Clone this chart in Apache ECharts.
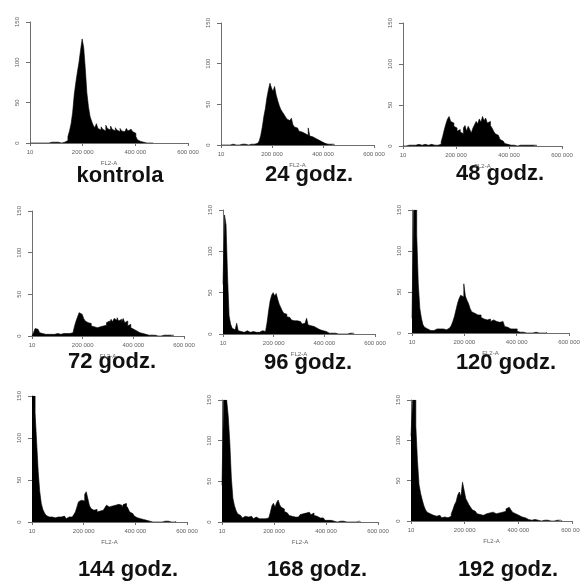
<!DOCTYPE html>
<html>
<head>
<meta charset="utf-8">
<script src="https://cdn.jsdelivr.net/npm/echarts@6/dist/echarts.min.js"></script>
<style>
  html, body { margin: 0; padding: 0; background: #fff; }
  #chart { width: 580px; height: 582px; }
</style>
</head>
<body>
<div id="chart"></div>
<script>
// DNA content histograms (FL2-A), cell counts per 6 000-wide channel bin
const BIN = 6000;
const panelTitles = ['kontrola', '24 godz.', '48 godz.', '72 godz.', '96 godz.', '120 godz.', '144 godz.', '168 godz.', '192 godz.'];
const xTickLabels = ['10', '200 000', '400 000', '600 000'];
const yTickLabels = ['0', '50', '100', '150'];

const kontrola = [0,0,0,0,0,0,0,0,0,0,0,0,0, 1,0,1,2,1,1,0, 1,1,2,3, 8,15,24,38,60,75,88,100,115,129,118,92,62,45,33,27,
  22,19,24,18,16,20,17,15,22,18,16,21,17,15,19,16,14,18,15,14,16,18,15,17,16,14,12,8,4,2,1,1,1,0,1,0,1,0];
const h24 = [0,0,0,0,0,0,0,1,1,0,0,0, 0,1,0,1,1,0,1,1, 1,1,2,2,3,5,12,22,35,45,58,68,76,70,66,72,62,55,49,44,
  41,38,35,32,30,28,33,25,22,21,19,17,16,15,14,13,12,21,11,10,9,8,7,6,5,4,3,2,1,1,0,1,0,1];
const h48 = [0,0,0, 1,0,1,2,1,1,2,1,1,1,2,1,1,1,2,1,1,2,1,1,2, 5,12,20,27,33,36,30,28,24,22,18,20,17,15,22,25,
  18,24,20,16,22,26,30,27,33,29,36,31,34,28,30,25,22,18,15,13,11,8,6,4,3,2,2,1,1,1, 1,0,1,1,0,1,0,1,0,1,0,1,0,1];
const h72 = [0,4,9,8,6,4,3,2,2,3,2,3,2,1,2,2,3,2,2,3,3,2,3,3,3,4,4,5,12,18,23,28,26,24,21,18,16,14,15,12,
  11,13,10,9,11,9,12,14,13,16,18,15,20,17,21,19,22,18,20,17,21,16,18,12,14,10,8,9,6,5,4,4,3,3,2,2,1,
  1,1,0,1,1,0,1,0,1,1,0,1,0,1,0,1];
const h96 = [60,144,132,70,22,12,7,5,6,13,4,3,2,2,3,4,2,2,4,3,2,2,1,2,3,4,2,3,5,14,28,40,47,50,46,49,42,36,32,28,
  25,24,21,20,19,17,16,15,16,14,15,13,12,13,12,19,11,10,9,9,8,7,6,5,5,4,5,3,2,1,
  1,1,0,1,1,0,1,0,1,0,1,0,0,1,0,1];
const h120 = [18,150,150,120,60,30,18,10,7,5,4,3,4,3,4,5,6,5,4,5,6,4,5,6,7,9,14,20,28,36,42,46,44,60,45,40,36,30,26,24,
  23,22,20,22,19,17,18,16,15,17,14,16,15,14,16,13,15,14,12,8,7,6,5,6,5,7,5,2,1,
  0,1,0,0,1,0,1,0,0,1,0,0,0,0,0,0,1];
const h144 = [150,150,130,95,60,36,22,15,11,8,6,5,6,4,5,7,6,8,6,5,7,5,4,6,5,6,7,9,12,18,24,26,27,25,33,36,28,20,16,14,
  13,15,12,13,12,14,15,17,20,18,16,19,17,20,18,21,19,20,17,21,22,19,16,12,10,8,7,5,4,4,3,3,2,2,1,1,1,
  0,1,0,1,0,1,0,0,1,0,1,0,0,1,0,1];
const h168 = [45,150,150,150,130,98,54,29,20,14,10,8,6,5,7,5,6,4,7,5,4,6,5,4,6,4,5,4,6,5,7,12,20,23,18,24,27,21,18,16,
  13,11,9,8,7,8,6,7,6,8,9,10,8,11,9,12,10,9,11,8,7,6,5,4,5,4,2,2,1,
  2,1,1,1,0,1,1,0,1,1,0,1,0,1,0,1,0,0,1,0];
const h192 = [105,150,150,118,75,45,34,26,19,14,11,9,8,7,8,6,5,7,5,4,5,6,4,5,6,9,14,20,24,32,36,30,48,38,28,24,20,17,14,12,
  10,9,8,8,7,8,9,8,10,9,11,10,9,11,10,12,11,13,12,15,17,16,14,11,9,8,7,6,5,4,4,3,2,2,
  1,1,2,1,1,1,0,1,1,0,1,1,0,1,0,1,1,0,1,0];

const histograms = [kontrola, h24, h48, h72, h96, h120, h144, h168, h192];

// Plot boxes [left, top, width, height] and caption anchors [centerX, baselineY]
const boxes = [
  [30, 22, 158, 121], [221, 23, 153, 122], [403, 23, 159, 123],
  [32, 211, 152, 125], [223, 210, 152, 124], [412, 210, 157, 123],
  [32, 396, 155, 126], [222, 400, 156, 122], [411, 400, 161, 121]
];
const captions = [
  [120, 187], [309, 186], [500, 185],
  [112, 373], [308, 374], [506, 374],
  [128, 581], [317, 581], [508, 581]
];

const axisGray = '#6e6e6e';
const labelGray = '#5e5e5e';
const tinyFont = 'Liberation Sans';

const grid = [], xAxis = [], yAxis = [], series = [], graphic = [];

histograms.forEach(function (counts, i) {
  const b = boxes[i];
  grid.push({ left: b[0], top: b[1], width: b[2], height: b[3], outerBoundsMode: 'none', containLabel: false });
  xAxis.push({
    type: 'value', gridIndex: i, min: 0, max: 600000, interval: 200000,
    name: 'FL2-A', nameLocation: 'middle', nameGap: 17,
    nameTextStyle: { fontSize: 6, color: labelGray, fontFamily: tinyFont },
    axisLine: { lineStyle: { color: axisGray, width: 1 } },
    axisTick: { show: true, length: 3, lineStyle: { color: axisGray } },
    axisLabel: {
      fontSize: 6, color: labelGray, fontFamily: tinyFont, margin: 6,
      formatter: function (v) { return xTickLabels[Math.round(v / 200000)]; }
    },
    splitLine: { show: false }
  });
  yAxis.push({
    type: 'value', gridIndex: i, min: 0, max: 150, interval: 50,
    axisLine: { show: true, lineStyle: { color: axisGray, width: 1 } },
    axisTick: { show: true, length: 4, lineStyle: { color: axisGray } },
    axisLabel: {
      fontSize: 6, color: labelGray, fontFamily: tinyFont, rotate: 90, margin: 10,
      formatter: function (v) { return yTickLabels[Math.round(v / 50)]; }
    },
    splitLine: { show: false }
  });
  const data = counts.map(function (c, k) { return [k * BIN, c]; });
  data.push([counts.length * BIN, 0]);
  series.push({
    type: 'line', xAxisIndex: i, yAxisIndex: i, data: data,
    step: 'end', symbol: 'none', silent: true, animation: false,
    lineStyle: { color: '#000', width: 0.6 },
    areaStyle: { color: '#000', opacity: 1 }
  });
  graphic.push({
    type: 'text', x: captions[i][0], y: captions[i][1], silent: true,
    style: {
      text: panelTitles[i], fill: '#111', textAlign: 'center', textVerticalAlign: 'bottom',
      font: 'bold 22px "Liberation Sans", Arial, sans-serif'
    }
  });
});

const chart = echarts.init(document.getElementById('chart'), null, { renderer: 'canvas' });
chart.setOption({
  animation: false,
  backgroundColor: '#fff',
  grid: grid, xAxis: xAxis, yAxis: yAxis, series: series, graphic: graphic
});
</script>
</body>
</html>
